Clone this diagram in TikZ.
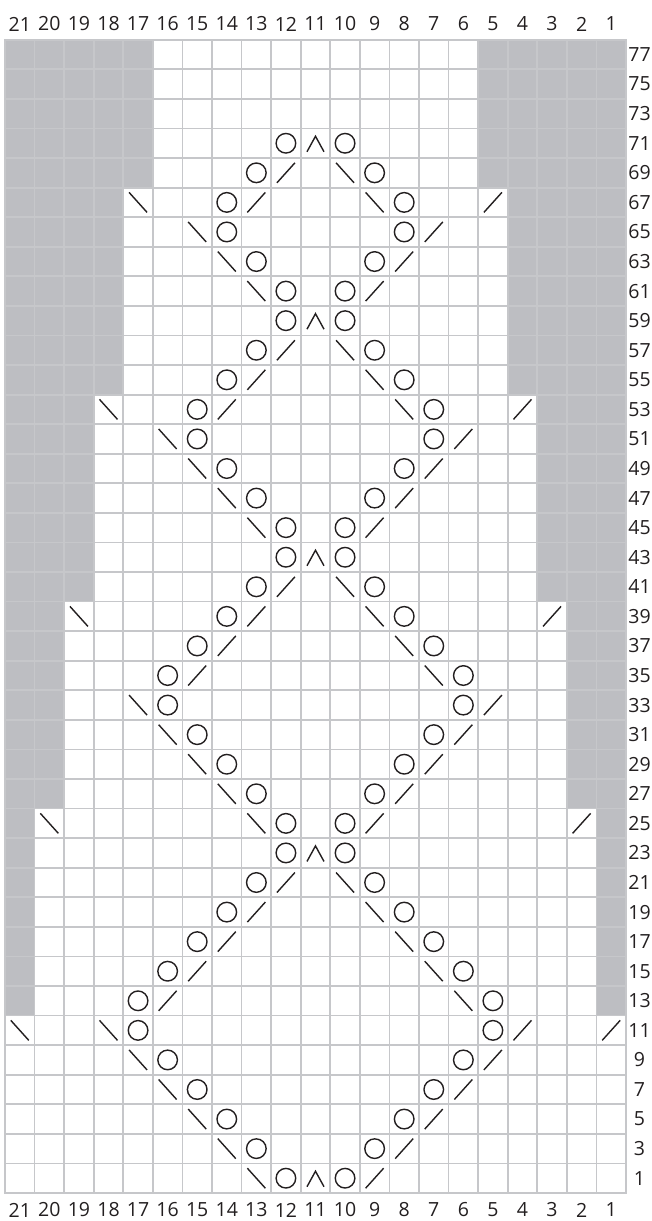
\documentclass[tikz,border=0pt]{standalone}
\usepackage{fontspec}
\setmainfont{Open Sans}
\definecolor{ink}{HTML}{231F20}
\definecolor{greyfill}{HTML}{BDBEC2}
\definecolor{gridc}{HTML}{C6C7CA}
\tikzset{
  yopic/.pic={\draw[ink,line width=1.4pt] (0,0) circle (9.8);},
  kpic/.pic={\draw[ink,line width=1.4pt] (-9,-10) -- (9,10);},
  spic/.pic={\draw[ink,line width=1.4pt] (-9,10) -- (9,-10);},
  cpic/.pic={\draw[ink,line width=1.4pt] (-8.5,-8.5) -- (0,7) -- (8.5,-8.5);},
  lab/.style={font=\fontsize{19.5}{19.5}\selectfont, text=ink, inner sep=0pt},
}
\begin{document}
\begin{tikzpicture}[x=1pt,y=1pt]
\def\s{29.57}
\useasboundingbox (0,0) rectangle (651,1221);
% white grid area
\fill[white] (5,28) rectangle ({5+21*\s},{28+39*\s});
% shaded bands: start row index / end row index / number of shaded columns per side
\foreach \a/\b/\k in {6/13/1, 13/20/2, 20/27/3, 27/34/4, 34/39/5}{
  \fill[greyfill] (5,{28+\a*\s}) rectangle ({5+\k*\s},{28+\b*\s});
  \fill[greyfill] ({5+(21-\k)*\s},{28+\a*\s}) rectangle ({5+21*\s},{28+\b*\s});
}
% grid
\foreach \i in {0,...,21}
  \draw[gridc,line width=1.8pt] ({5+\i*\s},28) -- ({5+\i*\s},{28+39*\s});
\foreach \j in {0,...,39}
  \draw[gridc,line width=1.8pt] (4.1,{28+\j*\s}) -- ({5.9+21*\s},{28+\j*\s});
% column labels
\foreach \c in {1,...,21}{
  \node[lab] (top\c) at ({5+(21.5-\c)*\s},1197) {\c};
  \node[lab] (bot\c) at ({5+(21.5-\c)*\s},11) {\c};
}
% row labels
\foreach \r in {1,3,...,77}
  \node[lab] (row\r) at (639.5,{28+((\r-1)/2+0.5)*\s}) {\r};
% yarn overs
\foreach \c/\r in {12/1,10/1,13/3,9/3,14/5,8/5,15/7,7/7,16/9,6/9,17/11,5/11,
  17/13,5/13,16/15,6/15,15/17,7/17,14/19,8/19,13/21,9/21,12/23,10/23,12/25,10/25,
  13/27,9/27,14/29,8/29,15/31,7/31,16/33,6/33,16/35,6/35,15/37,7/37,14/39,8/39,
  13/41,9/41,12/43,10/43,12/45,10/45,13/47,9/47,14/49,8/49,15/51,7/51,15/53,7/53,
  14/55,8/55,13/57,9/57,12/59,10/59,12/61,10/61,13/63,9/63,14/65,8/65,14/67,8/67,
  13/69,9/69,12/71,10/71}
  \pic at ({5+(21.5-\c)*\s},{28+((\r-1)/2+0.5)*\s}) {yopic};
% k2tog
\foreach \c/\r in {9/1,8/3,7/5,6/7,5/9,4/11,1/11,16/13,15/15,14/17,13/19,12/21,
  9/25,2/25,8/27,7/29,6/31,5/33,15/35,14/37,13/39,3/39,12/41,9/45,8/47,7/49,6/51,
  14/53,4/53,13/55,12/57,9/61,8/63,7/65,13/67,5/67,12/69}
  \pic at ({5+(21.5-\c)*\s},{28+((\r-1)/2+0.5)*\s}) {kpic};
% ssk
\foreach \c/\r in {13/1,14/3,15/5,16/7,17/9,21/11,18/11,6/13,7/15,8/17,9/19,10/21,
  20/25,13/25,14/27,15/29,16/31,17/33,7/35,8/37,19/39,9/39,10/41,13/45,14/47,15/49,
  16/51,18/53,8/53,9/55,10/57,13/61,14/63,15/65,17/67,9/67,10/69}
  \pic at ({5+(21.5-\c)*\s},{28+((\r-1)/2+0.5)*\s}) {spic};
% central double decrease
\foreach \r in {1,23,43,59,71}
  \pic at ({5+(21.5-11)*\s},{28+((\r-1)/2+0.5)*\s}) {cpic};
\end{tikzpicture}
\end{document}
